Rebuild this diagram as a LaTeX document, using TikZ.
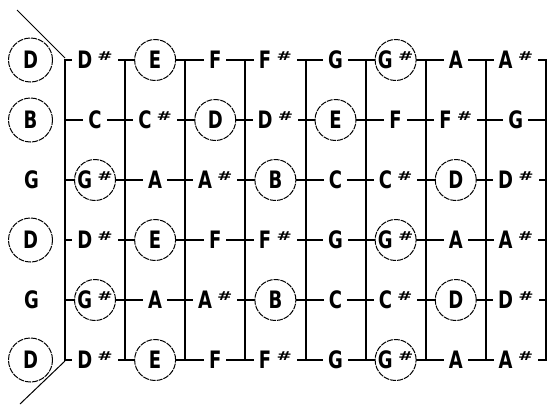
\documentclass[tikz,border=0pt]{standalone}
\usepackage{fontspec}
\setmainfont{DejaVu Sans}
\usepackage{graphicx}
\newcommand\nt[1]{\scalebox{0.75}[1]{\fontsize{24}{24}\selectfont\bfseries #1}}
\newcommand\shp{\hspace{7pt}\raisebox{8.5pt}{\scalebox{1.35}[0.68]{\fontsize{18}{18}\selectfont\bfseries\#}}}
\begin{document}
\begin{tikzpicture}[x=1pt,y=-1pt,
  ln/.style={line width=2pt,line cap=rect},
  diag/.style={line width=1pt},
  note/.style={fill=white,inner xsep=5pt,inner ysep=1pt},
  cnote/.style={circle,draw,fill=white,line width=1pt,dash pattern=on 6pt off 1pt,minimum size=41pt,inner sep=0pt},
  onote/.style={cnote,minimum size=44pt}]
\useasboundingbox (0,0) rectangle (549,405);
% strings
\foreach \r in {1,...,6}
  \draw[ln] (65,60*\r) -- (546,60*\r);
% frets
\foreach \i in {0,...,8}
  \draw[ln] (65+60.125*\i,60) -- (65+60.125*\i,360);
% diagonals
\coordinate (t1) at (17,10);
\coordinate (t2) at (65,58);
\coordinate (b1) at (65,361);
\coordinate (b2) at (20,404);
\draw[diag] (t1) -- (t2);
\draw[diag] (b1) -- (b2);
% open strings
\node[onote] (o1) at (30.5,60) {\nt{D}};
\node[onote] (o2) at (30.5,120) {\nt{B}};
\node[note]  (o3) at (31.5,180) {\nt{G}};
\node[onote] (o4) at (30.5,240) {\nt{D}};
\node[note]  (o5) at (31.5,300) {\nt{G}};
\node[onote] (o6) at (30.5,360) {\nt{D}};
% fretted notes
\foreach \r/\notes in {
  1/{D\shp/0,E/1,F/0,F\shp/0,G/0,G\shp/1,A/0,A\shp/0},
  2/{C/0,C\shp/0,D/1,D\shp/0,E/1,F/0,F\shp/0,G/0},
  3/{G\shp/1,A/0,A\shp/0,B/1,C/0,C\shp/0,D/1,D\shp/0},
  4/{D\shp/0,E/1,F/0,F\shp/0,G/0,G\shp/1,A/0,A\shp/0},
  5/{G\shp/1,A/0,A\shp/0,B/1,C/0,C\shp/0,D/1,D\shp/0},
  6/{D\shp/0,E/1,F/0,F\shp/0,G/0,G\shp/1,A/0,A\shp/0}}{
  \foreach \t/\c [count=\j from 0] in \notes {
    \ifnum\c=1
      \node[cnote] (n\r-\j) at (95+60.125*\j,60*\r) {\nt{\t}};
    \else
      \node[note] (n\r-\j) at (95+60.125*\j,60*\r) {\nt{\t}};
    \fi
  }
}
\end{tikzpicture}
\end{document}
